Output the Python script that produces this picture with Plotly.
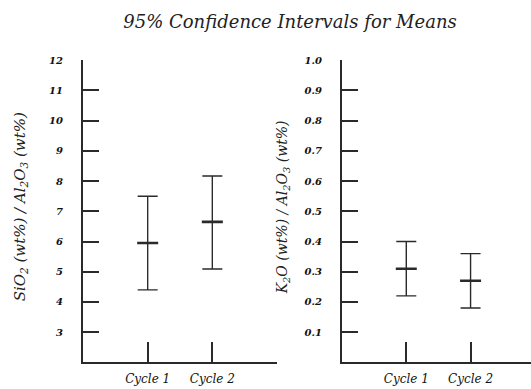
import plotly.graph_objects as go

# Sample groups
cycles = ["Cycle 1", "Cycle 2"]

# SiO2 / Al2O3 ratio: mean and 95% CI bounds
sio2_mean = [5.95, 6.65]
sio2_upper = [7.5, 8.17]
sio2_lower = [4.4, 5.09]

# K2O / Al2O3 ratio: mean and 95% CI bounds
k2o_mean = [0.31, 0.27]
k2o_upper = [0.40, 0.36]
k2o_lower = [0.22, 0.18]

sio2_ticks = list(range(3, 13))
k2o_ticks = [0.1, 0.2, 0.3, 0.4, 0.5, 0.6, 0.7, 0.8, 0.9, 1.0]

INK = "#2a2a2a"
SERIF = "DejaVu Serif"
W, H = 531, 389


def ci_trace(xref, yref, mean, upper, lower):
    return go.Scatter(
        x=cycles, y=mean, xaxis=xref, yaxis=yref, mode="markers",
        marker=dict(symbol="line-ew", size=15, line=dict(width=2.6, color=INK)),
        error_y=dict(
            type="data", symmetric=False,
            array=[u - m for u, m in zip(upper, mean)],
            arrayminus=[m - l for m, l in zip(mean, lower)],
            color=INK, thickness=1.4, width=10,
        ),
        showlegend=False, hoverinfo="skip",
    )


fig = go.Figure()
fig.add_trace(ci_trace("x", "y", sio2_mean, sio2_upper, sio2_lower))
fig.add_trace(ci_trace("x2", "y2", k2o_mean, k2o_upper, k2o_lower))

tick_font = dict(family=SERIF, size=10, color="#111", style="italic", weight=600)
cat_font = dict(family=SERIF, size=12, color="#111", style="italic")

ydom = [(H - 362) / H, (H - 56) / H]

common_x = dict(
    type="category", showline=True, linecolor=INK, linewidth=2,
    ticks="inside", ticklen=20, tickwidth=1.6, tickcolor=INK,
    showgrid=False, zeroline=False, tickfont=cat_font, ticklabelstandoff=4,
)
common_y = dict(
    showline=True, linecolor=INK, linewidth=2,
    ticks="inside", ticklen=16, tickwidth=1.6, tickcolor=INK,
    showgrid=False, zeroline=False, tickfont=tick_font, ticklabelstandoff=16,
    domain=ydom,
)

fig.update_layout(
    width=W, height=H,
    margin=dict(l=0, r=0, t=0, b=0),
    paper_bgcolor="white", plot_bgcolor="white",
    xaxis=dict(common_x, domain=[83 / W, 277 / W], range=[-1, 2], anchor="y"),
    yaxis=dict(common_y, range=[2, 12], tickvals=sio2_ticks, anchor="x"),
    xaxis2=dict(common_x, domain=[342 / W, 1.0], range=[-1, 1.94], anchor="y2"),
    yaxis2=dict(common_y, range=[0, 1], tickvals=k2o_ticks, tickformat=".1f", anchor="x2"),
    title=dict(
        text="95% Confidence Intervals for Means",
        x=290 / W, xanchor="center", y=1 - 22 / H, yanchor="middle",
        font=dict(family=SERIF, size=18, color="#222", style="italic"),
    ),
    annotations=[
        dict(
            text="SiO<sub>2</sub> (wt%) / Al<sub>2</sub>O<sub>3</sub> (wt%)",
            xref="paper", yref="paper", x=20 / W, y=1 - 205 / H,
            textangle=-90, showarrow=False, xanchor="center", yanchor="middle",
            font=dict(family=SERIF, size=15, color="#222", style="italic"),
        ),
        dict(
            text="K<sub>2</sub>O (wt%) / Al<sub>2</sub>O<sub>3</sub> (wt%)",
            xref="paper", yref="paper", x=283 / W, y=1 - 205 / H,
            textangle=-90, showarrow=False, xanchor="center", yanchor="middle",
            font=dict(family=SERIF, size=14, color="#222", style="italic"),
        ),
    ],
)

fig.write_html("out.html")
